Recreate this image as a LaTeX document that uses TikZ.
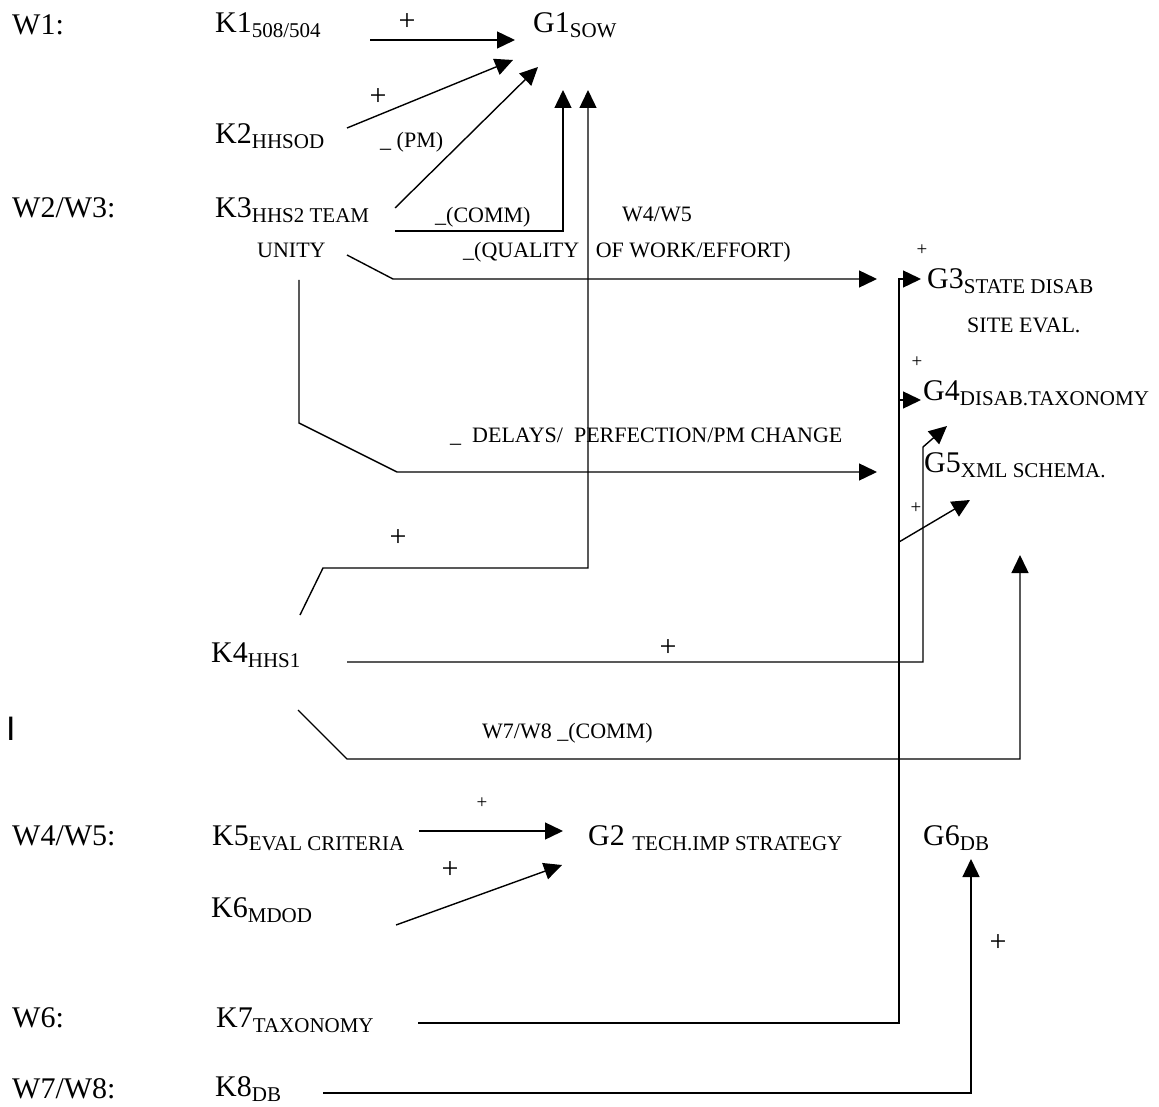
\documentclass[tikz,border=0pt]{standalone}
\usepackage{fontspec}
\setmainfont{Liberation Serif}
\newfontfamily\barfont{Liberation Sans}
\usetikzlibrary{arrows.meta}
\newcommand{\sub}[1]{\raisebox{-5pt}{\fontsize{21}{25}\selectfont #1}}
\tikzset{
  knode/.style = {anchor=base west, inner sep=0pt, font=\fontsize{30}{36}\selectfont},
  lbl/.style = {anchor=base west, inner sep=0pt, font=\fontsize{22}{26}\selectfont},
  bigplus/.style = {inner sep=0pt, font=\fontsize{30}{36}\selectfont},
  smallplus/.style = {inner sep=0pt, font=\fontsize{19}{23}\selectfont},
  link/.style = {line width=1.4pt, line join=miter, -{Triangle[length=18pt, width=17pt]}}
}

\begin{document}
\begin{tikzpicture}[x=1pt, y=-1pt]

\useasboundingbox (0,0) rectangle (1159,1107);

\node[knode] (W1) at (12,35) {W1:};
\node[knode] (W23) at (12,218) {W2/W3:};
\node[knode] (W45) at (12,845) {W4/W5:};
\node[knode] (W6) at (12,1027) {W6:};
\node[knode] (W78) at (12,1098) {W7/W8:};
\node[anchor=base west, inner sep=0pt, font=\barfont\fontsize{34}{40}\selectfont] (I) at (6,740) {I};

\node[knode] (K1) at (215,33) {K1\sub{508/504}};
\node[knode] (K2) at (215,144) {K2\sub{HHSOD}};
\node[knode] (K3) at (215,218) {K3\sub{HHS2 TEAM}};
\node[lbl] (K3b) at (257,258) {UNITY};
\node[knode] (K4) at (211,662) {K4\sub{HHS1}};
\node[knode] (K5) at (212,845) {K5\sub{EVAL CRITERIA}};
\node[knode] (K6) at (211,917) {K6\sub{MDOD}};
\node[knode] (K7) at (216,1027) {K7\sub{TAXONOMY}};
\node[knode] (K8) at (215,1096) {K8\sub{DB}};

\node[knode] (G1) at (533,33) {G1\sub{SOW}};
\node[knode] (G2) at (588,845) {G2 \sub{TECH.IMP STRATEGY}};
\node[knode] (G3) at (927,289) {G3\sub{STATE DISAB}};
\node[lbl] (G3b) at (967,332) {SITE EVAL.};
\node[knode] (G4) at (923,400) {G4\sub{DISAB.TAXONOMY}};
\node[knode] (G5) at (924,472) {G5\sub{XML SCHEMA.}};
\node[knode] (G6) at (923,845) {G6\sub{DB}};

\node[lbl] (PM) at (380,148) {\_ (PM)};
\node[lbl] (COMM) at (435,223) {\_(COMM)};
\node[lbl] (W45b) at (622,222) {W4/W5};
\node[lbl] (QUAL) at (463,258) {\_(QUALITY \ \ OF WORK/EFFORT)};
\node[lbl] (DEL) at (450,442) {\_ \ DELAYS/ \ PERFECTION/PM CHANGE};
\node[lbl] (W78b) at (482,738) {W7/W8 \_(COMM)};

\node[bigplus] (P1) at (407,22) {+};
\node[bigplus] (P2) at (378,97) {+};
\node[bigplus] (P3) at (398,538) {+};
\node[bigplus] (P4) at (668,648) {+};
\node[bigplus] (P5) at (450,870) {+};
\node[bigplus] (P6) at (998,943) {+};
\node[smallplus] (P7) at (482,803) {+};
\node[smallplus] (P8) at (922,250) {+};
\node[smallplus] (P9) at (917,362) {+};
\node[smallplus] (P10) at (916,508) {+};

\coordinate (K1a) at (370,40);
\coordinate (G1a) at (515,40);
\coordinate (K2a) at (347,128);
\coordinate (G1b) at (513,60);
\coordinate (K3a) at (395,208);
\coordinate (G1c) at (538,67);
\coordinate (K3c) at (395,231);
\coordinate (G1d) at (563,90);
\coordinate (K3d) at (347,255);
\coordinate (G3a) at (877,279);
\coordinate (K3e) at (299,280);
\coordinate (G5a) at (877,472);
\coordinate (K4a) at (300,615);
\coordinate (G1e) at (588,90);
\coordinate (K4b) at (347,662);
\coordinate (G4a) at (947,426);
\coordinate (K4c) at (298,710);
\coordinate (G5b) at (1020,555);
\coordinate (K7a) at (418,1023);
\coordinate (G3b) at (921,279);
\coordinate (G4b) at (921,400);
\coordinate (G5c) at (970,500);
\coordinate (K8a) at (323,1093);
\coordinate (G6a) at (971,859);
\coordinate (K5a) at (419,831);
\coordinate (G2a) at (563,831);
\coordinate (K6a) at (396,925);
\coordinate (G2b) at (562,865);

\draw[link] (K1a) -- (G1a);
\draw[link] (K2a) -- (G1b);
\draw[link] (K3a) -- (G1c);
\draw[link] (K3c) -| (G1d);
\draw[link] (K3d) -- (393,279) -- (G3a);
\draw[link] (K3e) -- (299,423) -- (397,472) -- (G5a);
\draw[link] (K4a) -- (323,568) -| (G1e);
\draw[link] (K4b) -- (923,662) -- (923,447) -- (G4a);
\draw[link] (K4c) -- (347,759) -| (G5b);
\draw[link] (K7a) -- (899,1023) -- (899,279) -- (G3b);
\draw[link] (899,400) -- (G4b);
\draw[link] (899,542) -- (G5c);
\draw[link] (K8a) -| (G6a);
\draw[link] (K5a) -- (G2a);
\draw[link] (K6a) -- (G2b);

\end{tikzpicture}
\end{document}
